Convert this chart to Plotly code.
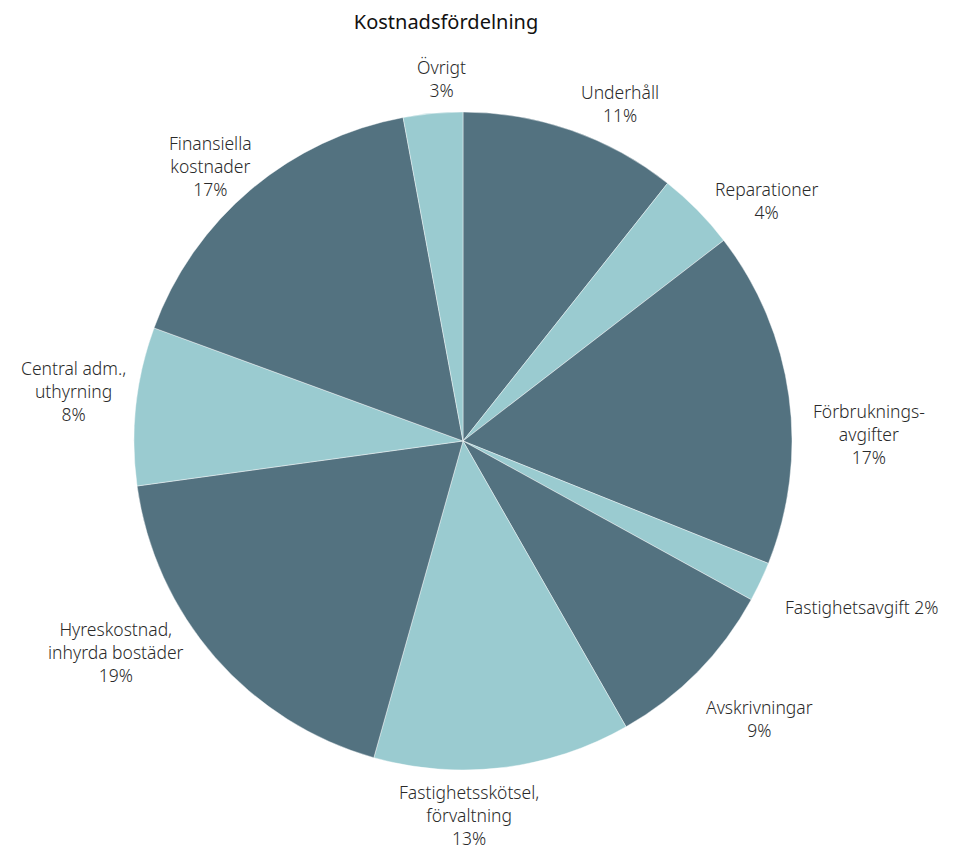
import plotly.graph_objects as go

# Cost categories (clockwise from 12 o'clock) and their shares in percent
categories = [
    "Underhåll",
    "Reparationer",
    "Förbrukningsavgifter",
    "Fastighetsavgift",
    "Avskrivningar",
    "Fastighetsskötsel, förvaltning",
    "Hyreskostnad, inhyrda bostäder",
    "Central adm., uthyrning",
    "Finansiella kostnader",
    "Övrigt",
]
# how each category name is wrapped in its label
label_names = [
    "Underhåll",
    "Reparationer",
    "Förbruknings-<br>avgifter",
    "Fastighetsavgift",
    "Avskrivningar",
    "Fastighetsskötsel,<br>förvaltning",
    "Hyreskostnad,<br>inhyrda bostäder",
    "Central adm.,<br>uthyrning",
    "Finansiella<br>kostnader",
    "Övrigt",
]
shares = [11, 4, 17, 2, 9, 13, 19, 8, 17, 3]
separators = ["<br>", "<br>", "<br>", " ", "<br>", "<br>", "<br>", "<br>", "<br>", "<br>"]

W, H = 964, 850
# pie placement in pixels
CX, CY, R = 463, 441, 329

# label anchor points, in pixels (x from left, y from top)
label_px = [
    (620, 104),
    (766, 200),
    (869, 434),
    (861, 607),
    (759, 718),
    (469, 815),
    (116, 652),
    (73, 391),
    (210, 166),
    (441, 78),
]

DARK = "#537280"
LIGHT = "#9acbd0"
slice_colors = [DARK, LIGHT] * 5
FONT = "Noto Sans, Lato, sans-serif"

fig = go.Figure(
    go.Pie(
        labels=categories,
        values=shares,
        textinfo="none",
        sort=False,
        direction="clockwise",
        rotation=0,
        marker=dict(colors=slice_colors, line=dict(color="rgba(255,255,255,0.6)", width=0.7)),
        showlegend=False,
        domain=dict(
            x=[(CX - R) / W, (CX + R) / W],
            y=[(H - CY - R) / H, (H - CY + R) / H],
        ),
        hoverinfo="label+value",
    )
)

for name, sep, val, (px, py) in zip(label_names, separators, shares, label_px):
    fig.add_annotation(
        text=f"{name}{sep}{val}%",
        x=px / W,
        y=1 - py / H,
        xref="paper",
        yref="paper",
        xanchor="center",
        yanchor="middle",
        align="center",
        showarrow=False,
        font=dict(family=FONT, size=17.5, color="#2a2a2a", weight=300),
    )

fig.update_layout(
    width=W,
    height=H,
    margin=dict(l=0, r=0, t=0, b=0),
    paper_bgcolor="white",
    plot_bgcolor="white",
    title=dict(
        text="Kostnadsfördelning",
        x=446 / W,
        xanchor="center",
        y=1 - 22 / H,
        yanchor="middle",
        font=dict(family=FONT, size=20, color="#111111"),
    ),
)

fig.write_html("out.html")
